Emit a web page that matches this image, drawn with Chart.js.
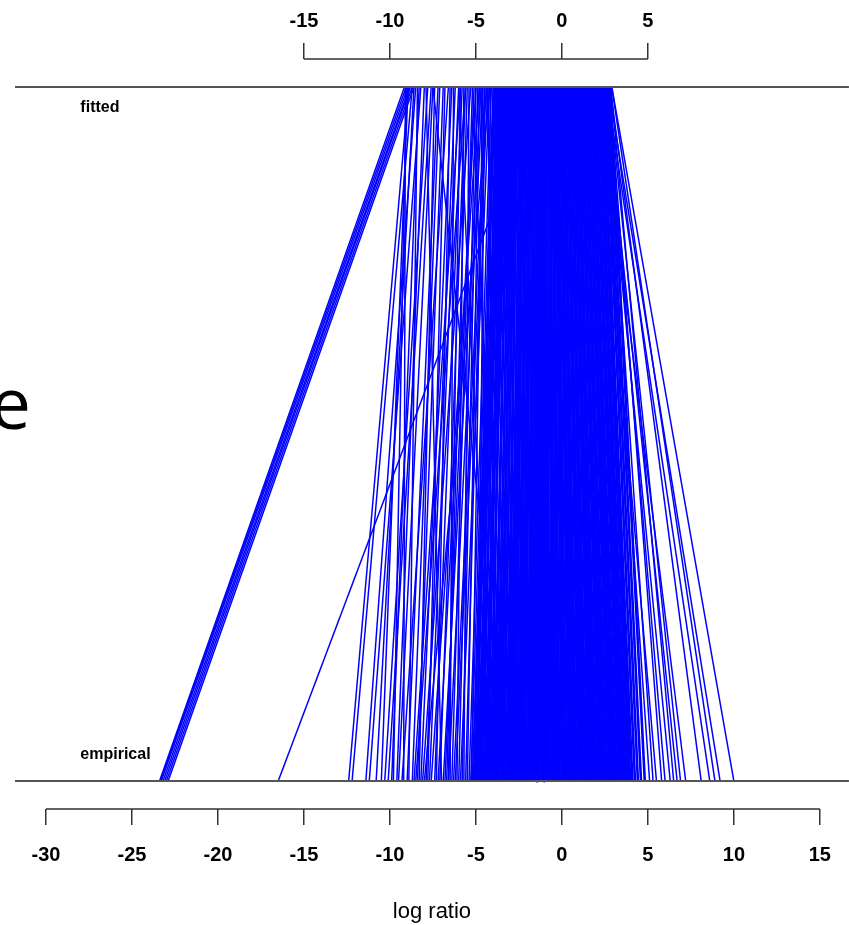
<!DOCTYPE html>
<html>
<head>
<meta charset="utf-8">
<title>log ratio: empirical vs fitted</title>
<script src="https://cdn.jsdelivr.net/npm/chart.js@4.4.1/dist/chart.umd.min.js"></script>
<style>
  html, body { margin: 0; padding: 0; background: #fff; }
  canvas { display: block; }
</style>
</head>
<body>
<canvas id="chart" width="849" height="925"></canvas>
<script>
// each segment joins an empirical log ratio (bottom) to its fitted value (top)

// far left tail
const outlierEmpirical = [-23.4, -23.35, -23.3, -23.2, -23.1, -23.0, -22.9, -16.5];
const outlierFitted    = [-9.15, -9.05, -8.95, -8.85, -8.8, -8.7, -8.6, -1.3];

// sparse left side
const leftEmpirical = [-12.4, -12.2, -11.4, -11.2, -10.5, -10.3, -10.1, -9.8, -9.5, -9.2,
                       -9.0, -8.7, -8.4, -8.2, -7.9, -7.7, -7.4, -7.1, -6.9, -6.7,
                       -6.4, -6.2, -6.0, -5.8, -5.6, -5.4, -3.1, -4.0, -8.0, -2.4,
                       -9.6, -9.3, -8.9, -8.6, -8.3, -8.1, -7.8, -7.6, -7.3, -7.0,
                       -6.8, -6.6, -6.5, -6.3, -6.1, -5.9, -5.7, -5.5, -5.3, -5.25,
                       -4.9, -4.6, -4.4, -3.8, -3.5, -10.8, -9.9, -7.2, -6.6, -8.5];
const leftFitted    = [-8.9, -8.7, -8.5, -8.2, -8.95, -7.8, -7.6, -9.05, -7.5, -9.1,
                       -7.2, -7.1, -6.9, -6.4, -6.2, -6.0, -5.8, -5.6, -4.7, -5.5,
                       -5.2, -4.3, -5.0, -4.9, -4.5, -4.1, -7.5, -6.0, -4.2, -4.4,
                       -8.0, -6.6, -8.4, -5.9, -7.4, -5.3, -6.8, -4.8, -6.5, -7.9,
                       -5.1, -4.6, -6.3, -4.4, -5.7, -4.2, -5.4, -4.8, -4.0, -4.6,
                       -4.5, -4.15, -4.7, -4.3, -5.2, -8.6, -8.3, -5.0, -5.9, -5.6];

// dense core
const coreEmpirical = [-5.18, -5.07, -4.99, -4.9, -4.78, -4.7, -4.61, -4.5, -4.42, -4.31,
                       -4.22, -4.12, -4.03, -3.91, -3.83, -3.72, -3.64, -3.52, -3.43, -3.35,
                       -3.24, -3.13, -3.05, -2.94, -2.86, -2.75, -2.66, -2.55, -2.47, -2.36,
                       -2.27, -2.16, -2.08, -1.97, -1.88, -1.77, -1.69, -1.58, -1.49, -1.38,
                       -1.3, -1.19, -1.1, -0.99, -0.91, -0.8, -0.71, -0.6, -0.52, -0.41,
                       -0.32, -0.21, -0.13, -0.02, 0.07, 0.18, 0.26, 0.37, 0.46, 0.57,
                       0.65, 0.76, 0.85, 0.96, 1.04, 1.15, 1.24, 1.35, 1.43, 1.54,
                       1.63, 1.74, 1.82, 1.93, 2.02, 2.13, 2.21, 2.32, 2.41, 2.52,
                       2.6, 2.71, 2.8, 2.91, 2.99, 3.1, 3.19, 3.3, 3.38, 3.49,
                       3.58, 3.69, 3.77, 3.88, 3.97, 4.1, 4.25, 4.42, 4.6, 4.82];
const coreFitted    = [-3.9, -3.7, -3.95, -3.6, -3.8, -3.5, -3.65, -3.4, -3.3, -3.5,
                       -3.2, -3.35, -3.05, -3.15, -2.9, -3.0, -2.8, -2.85, -2.65, -2.75,
                       -2.55, -2.6, -2.4, -2.45, -2.3, -2.2, -2.25, -2.1, -2.0, -2.05,
                       -1.9, -1.8, -1.85, -1.7, -1.6, -1.65, -1.5, -1.4, -1.45, -1.3,
                       -1.2, -1.25, -1.1, -1.0, -0.95, -0.85, -0.9, -0.75, -0.65, -0.7,
                       -0.55, -0.45, -0.5, -0.35, -0.3, -0.2, -0.25, -0.1, 0.0, -0.05,
                       0.1, 0.2, 0.15, 0.3, 0.4, 0.35, 0.5, 0.6, 0.55, 0.7,
                       0.8, 0.75, 0.9, 1.0, 0.95, 1.1, 1.2, 1.15, 1.3, 1.4,
                       1.35, 1.5, 1.6, 1.55, 1.7, 1.8, 1.75, 1.9, 2.0, 1.95,
                       2.1, 2.2, 2.15, 2.3, 2.4, 2.35, 2.5, 2.6, 2.7, 2.8];

// right tail
const rightEmpirical = [5.1, 5.3, 5.5, 5.8, 6.0, 6.3, 6.5, 6.7, 6.9, 7.2, 8.1, 8.6, 8.9, 9.2, 10.0];
const rightFitted    = [2.3, 2.6, 2.0, 2.75, 2.6, 2.4, 2.85, 2.5, 2.7, 2.2, 2.8, 2.6, 2.9, 2.7, 2.9];

const bottomTicks = [-30, -25, -20, -15, -10, -5, 0, 5, 10, 15];
const topTicks = [-15, -10, -5, 0, 5];
const rowLabels = ['empirical', 'fitted'];

const BLUE = '#0000ff';
const FONT = '"Liberation Sans", Arial, sans-serif';

function segments(emp, fit, width) {
    return emp.map((e, i) => ({
        data: [{x: e, y: 0}, {x: fit[i], y: 1}],
        borderColor: BLUE,
        borderWidth: width,
        pointRadius: 0,
        fill: false,
    }));
}

const datasets = [].concat(
    segments(outlierEmpirical, outlierFitted, 1.5),
    segments(leftEmpirical, leftFitted, 1.5),
    segments(coreEmpirical, coreFitted, 2.6),
    segments(rightEmpirical, rightFitted, 1.5)
);

// draws the two baselines, the short axis lines and the row labels
const decorations = {
    id: 'decorations',
    afterDatasetsDraw(chart) {
        const {ctx, chartArea} = chart;
        const x = chart.scales.x, y = chart.scales.y;
        ctx.save();
        ctx.strokeStyle = '#555';
        ctx.lineWidth = 2;
        [0, 1].forEach(v => {
            const py = Math.round(y.getPixelForValue(v));
            ctx.beginPath();
            ctx.moveTo(chartArea.left, py);
            ctx.lineTo(chartArea.right, py);
            ctx.stroke();
        });
        ctx.fillStyle = '#000';
        ctx.font = 'bold 16px ' + FONT;
        ctx.textAlign = 'left';
        ctx.textBaseline = 'middle';
        ctx.fillText(rowLabels[1], x.getPixelForValue(-28), y.getPixelForValue(1) + 21);
        ctx.fillText(rowLabels[0], x.getPixelForValue(-28), y.getPixelForValue(0) - 27);
        ctx.restore();
    },
    afterDraw(chart) {
        const {ctx} = chart;
        const x = chart.scales.x, x2 = chart.scales.x2;
        ctx.save();
        ctx.strokeStyle = '#333';
        ctx.lineWidth = 1.5;
        ctx.beginPath();
        ctx.moveTo(x.getPixelForValue(bottomTicks[0]), x.top);
        ctx.lineTo(x.getPixelForValue(bottomTicks[bottomTicks.length - 1]), x.top);
        ctx.moveTo(x2.getPixelForValue(topTicks[0]), x2.bottom);
        ctx.lineTo(x2.getPixelForValue(topTicks[topTicks.length - 1]), x2.bottom);
        ctx.stroke();
        // clipped leftover of a big label at the left edge
        ctx.fillStyle = '#000';
        ctx.font = '72px "Open Sans", sans-serif';
        ctx.textAlign = 'right';
        ctx.textBaseline = 'alphabetic';
        ctx.fillText('e', 31, 429);
        ctx.restore();
    }
};

function axis(position, ticks, height, padding) {
    return {
        type: 'linear',
        position: position,
        min: -31.8,
        max: 16.69,
        border: {display: false},
        grid: {drawOnChartArea: false, drawTicks: true, tickLength: 16, color: '#333', lineWidth: 1.5},
        ticks: {
            color: '#000',
            font: {family: FONT, size: 20, weight: 'bold'},
            padding: padding,
            autoSkip: false,
            maxRotation: 0,
            includeBounds: false,
        },
        afterBuildTicks: (s) => { s.ticks = ticks.map(v => ({value: v})); },
        afterFit: (s) => { s.height = height; },
    };
}

const xBottom = axis('bottom', bottomTicks, 116, 18);
xBottom.title = {display: true, text: 'log ratio', color: '#000', font: {family: FONT, size: 22}, padding: 0};
const xTop = axis('top', topTicks, 59, 10);

new Chart(document.getElementById('chart'), {
    type: 'line',
    data: {datasets: datasets},
    options: {
        responsive: false,
        animation: false,
        layout: {padding: {left: 15, right: 0, top: 0, bottom: 0}},
        plugins: {legend: {display: false}, tooltip: {enabled: false}},
        scales: {
            x: xBottom,
            x2: xTop,
            y: {type: 'linear', display: false, min: -0.04, max: 1.04},
        },
    },
    plugins: [decorations],
});
</script>
</body>
</html>
